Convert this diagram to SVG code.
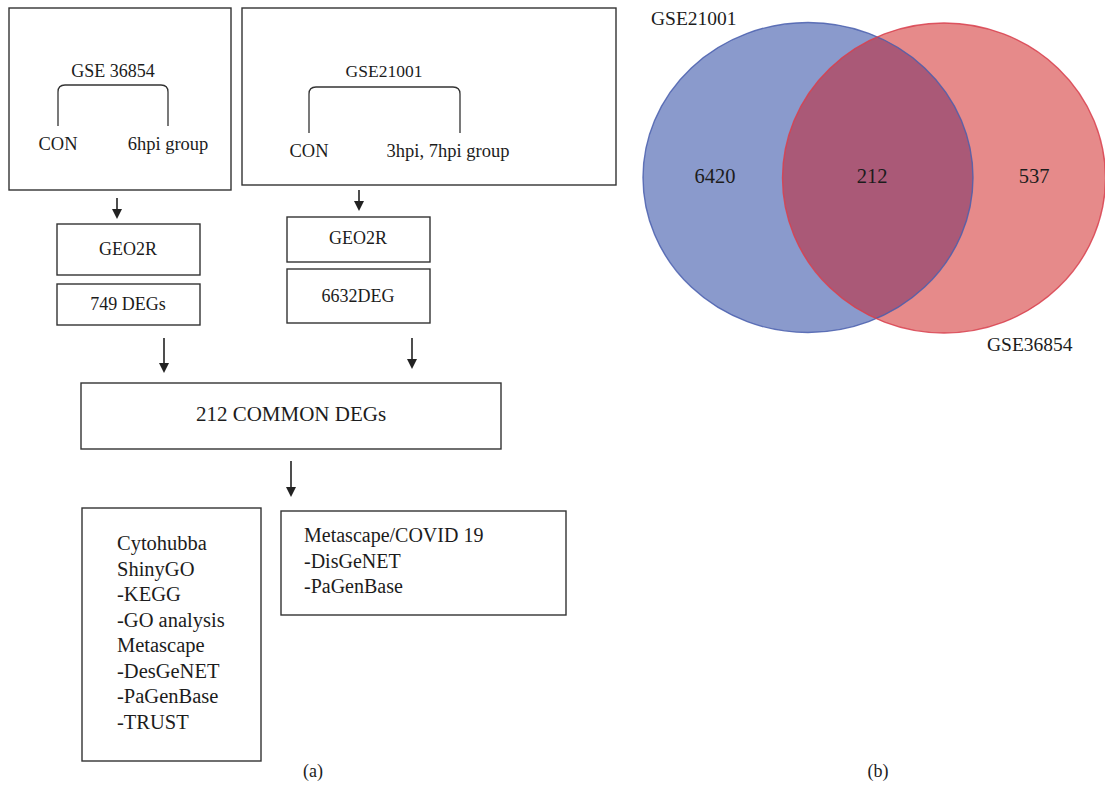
<svg xmlns="http://www.w3.org/2000/svg" width="1105" height="797" viewBox="0 0 1105 797">
<style>
  .box{fill:#fff;stroke:#333;stroke-width:1.4}
  .br{fill:none;stroke:#333;stroke-width:1.3}
  .t{font-family:"Liberation Serif","Times New Roman",serif;fill:#1c1c1c}
  .c{text-anchor:middle}
  .a{stroke:#222;stroke-width:1.6;fill:none}
  .ah{fill:#222}
</style>
<defs>
  <clipPath id="blueClip"><ellipse cx="808" cy="177.5" rx="165" ry="155"/></clipPath>
</defs>
<rect width="1105" height="797" fill="#fff"/>

<g id="gse36854">
  <rect class="box" x="9" y="8" width="222" height="182"/>
  <text class="t c" x="113" y="77" font-size="18">GSE 36854</text>
  <path class="br" d="M58,126 L58,92 Q58,85 65,85 L161,85 Q168,85 168,92 L168,126"/>
  <text class="t c" x="58" y="150" font-size="18.5">CON</text>
  <text class="t c" x="168" y="150" font-size="18.5">6hpi group</text>
</g>

<g id="gse21001">
  <rect class="box" x="242" y="8" width="374" height="177"/>
  <text class="t c" x="384" y="77" font-size="17.5">GSE21001</text>
  <path class="br" d="M309,133 L309,94 Q309,87 316,87 L453,87 Q460,87 460,94 L460,133"/>
  <text class="t c" x="309" y="157" font-size="18.5">CON</text>
  <text class="t c" x="448" y="157" font-size="18.5">3hpi, 7hpi group</text>
</g>

<g id="geo2r-left">
  <rect class="box" x="57" y="224" width="143" height="51"/>
  <text class="t c" x="128" y="255" font-size="18">GEO2R</text>
</g>
<g id="degs-left">
  <rect class="box" x="57" y="284" width="143" height="41"/>
  <text class="t c" x="128" y="310" font-size="18">749 DEGs</text>
</g>

<g id="geo2r-right">
  <rect class="box" x="287" y="217" width="143" height="45"/>
  <text class="t c" x="358" y="244" font-size="18">GEO2R</text>
</g>
<g id="degs-right">
  <rect class="box" x="287" y="269" width="143" height="54"/>
  <text class="t c" x="358" y="302" font-size="18">6632DEG</text>
</g>

<g id="common">
  <rect class="box" x="81" y="383" width="420" height="66"/>
  <text class="t c" x="291" y="421" font-size="21">212 COMMON DEGs</text>
</g>

<g id="tools-left">
  <rect class="box" x="82" y="508" width="179" height="253"/>
  <text class="t" x="117" font-size="20.5">
    <tspan x="117" y="550">Cytohubba</tspan>
    <tspan x="117" y="575.5">ShinyGO</tspan>
    <tspan x="117" y="601">-KEGG</tspan>
    <tspan x="117" y="626.5">-GO analysis</tspan>
    <tspan x="117" y="652">Metascape</tspan>
    <tspan x="117" y="677.5">-DesGeNET</tspan>
    <tspan x="117" y="703">-PaGenBase</tspan>
    <tspan x="117" y="728.5">-TRUST</tspan>
  </text>
</g>

<g id="tools-right">
  <rect class="box" x="281" y="511" width="285" height="104"/>
  <text class="t" font-size="20">
    <tspan x="304" y="542">Metascape/COVID 19</tspan>
    <tspan x="304" y="567.5">-DisGeNET</tspan>
    <tspan x="304" y="593">-PaGenBase</tspan>
  </text>
</g>

<g id="connectors">
  <line class="a" x1="117" y1="198" x2="117" y2="210"/>
  <polygon class="ah" points="112,209 122,209 117,219"/>
  <line class="a" x1="359" y1="190" x2="359" y2="202"/>
  <polygon class="ah" points="354,201 364,201 359,211"/>
  <line class="a" x1="164" y1="338" x2="164" y2="364"/>
  <polygon class="ah" points="159,363 169,363 164,373"/>
  <line class="a" x1="412" y1="338" x2="412" y2="360"/>
  <polygon class="ah" points="407,359 417,359 412,369"/>
  <line class="a" x1="291" y1="461" x2="291" y2="488"/>
  <polygon class="ah" points="286,487 296,487 291,497"/>
</g>

<g id="venn">
  <ellipse cx="808" cy="177.5" rx="165" ry="155" fill="#8a9acc"/>
  <ellipse cx="944" cy="178" rx="161.5" ry="155" fill="#e68a8a"/>
  <ellipse cx="944" cy="178" rx="161.5" ry="155" fill="#aa5977" clip-path="url(#blueClip)"/>
  <ellipse cx="808" cy="177.5" rx="165" ry="155" fill="none" stroke="#4a5fae" stroke-width="1.4" stroke-opacity="0.85"/>
  <ellipse cx="944" cy="178" rx="161.5" ry="155" fill="none" stroke="#d8404e" stroke-width="1.4" stroke-opacity="0.85"/>
  <text class="t" x="651" y="25" font-size="19.5">GSE21001</text>
  <text class="t c" x="715" y="183" font-size="20.5">6420</text>
  <text class="t c" x="872" y="183" font-size="20.5">212</text>
  <text class="t c" x="1034" y="183" font-size="20.5">537</text>
  <text class="t" x="987" y="351" font-size="19.5">GSE36854</text>
</g>

<g id="labels">
  <text class="t c" x="313" y="777" font-size="18">(a)</text>
  <text class="t c" x="878" y="777" font-size="18">(b)</text>
</g>
</svg>
